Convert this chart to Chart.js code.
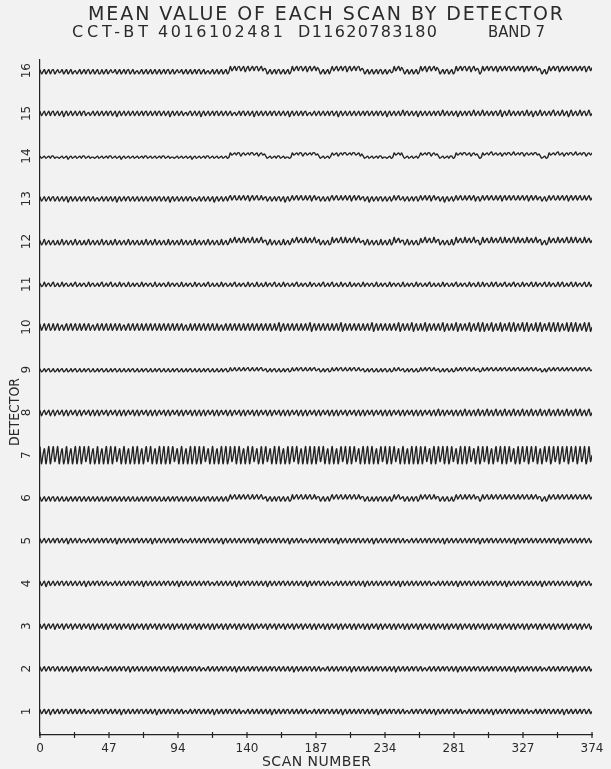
<!DOCTYPE html>
<html>
<head>
<meta charset="utf-8">
<script src="https://cdn.jsdelivr.net/npm/chart.js@4.4.1/dist/chart.umd.min.js"></script>
<style>
  html, body { margin: 0; padding: 0; background: #f2f2f2; }
  canvas { display: block; }
</style>
</head>
<body>
<canvas id="scanChart" width="611" height="769"></canvas>
<script>
// Detector rows and axis labels
const detectors = [1, 2, 3, 4, 5, 6, 7, 8, 9, 10, 11, 12, 13, 14, 15, 16];
const yTickLabels = ['1', '2', '3', '4', '5', '6', '7', '8', '9', '10', '11', '12', '13', '14', '15', '16'];
const xTickLabels = ['0', '47', '94', '140', '187', '234', '281', '327', '374'];
const lastScan = 374;

const titleText = 'MEAN VALUE OF EACH SCAN BY DETECTOR';
const subtitleParts = ['CCT-BT', '4016102481', 'D11620783180', 'BAND 7'];
const yAxisTitle = 'DETECTOR';
const xAxisTitle = 'SCAN NUMBER';

// Scan means, one digit per scan (scans 0..374); digit 5 is the detector's own level.
const det01 = [
  '735735725735735','736735735735735','735635735735736','735735735725735','735735736735735',
  '735725735735736','735735735635735','736735735735725','735735736735735','735635735735735',
  '735735725735735','736735735735735','735635735735736','735735735725735','735735736735735',
  '735725735735736','735735735635735','736735735735725','735735736735735','735635735735735',
  '735735725735735','736735735735735','735635735735736','735735735725735','735735736735735'];
const det02 = [
  '735735736735735','735735725735735','736735735735635','735735735736735','725735735735735',
  '735736735735735','725735735735736','735735635735735','735736735735725','735735735736735',
  '735735736735735','735735725735735','736735735735635','735735735736735','725735735735735',
  '735736735735735','725735735735736','735735635735735','735736735735725','735735735736735',
  '735735736735735','735735725735735','736735735735635','735735735736735','725735735735735'];
const det03 = [
  '735725735725735','725735725735725','735725725735725','725735725725735','725725735725725',
  '735725725735725','725735725725735','725725735725725','735725725735725','725735725725735',
  '735725735725735','725735725735725','735725725735725','725735725725735','725725735725725',
  '735725725735725','725735725725735','725725735725725','735725725735725','725735725725735',
  '725725735725725','735725725735725','725735725725735','725725735725725','735725725735725'];
const det04 = [
  '735725735735736','735735735735735','725735736735735','735635735735735','736735735725735',
  '735735735736735','735725735735735','735735736735635','735735735735725','735736735735735',
  '735725735735736','735735735735735','725735736735735','735635735735735','736735735725735',
  '735735735736735','735725735735735','735735736735635','735735735735725','735736735735735',
  '735735736735735','725735735736735','735735735725735','736735735735735','735725736735735'];
const det05 = [
  '735735735736735','735725735735735','635735735735736','735735725735735','735736735735735',
  '725735735735735','736735735635735','735735736735735','735725735735735','735735736735725',
  '735735735736735','735725735735735','635735735735736','735735725735735','735736735735735',
  '725735735735735','736735735635735','735735736735735','735725735735735','735735736735725',
  '735736735735735','735735725735736','735735735735735','736735725735735','735735736735735'];
const det06 = [
  '624624625624624','623624624625624','624624624624623','625624624624624','624623624624625',
  '624624623624624','625624624624624','623624625624624','624624624846845','846846845846846',
  '845624624625624','624623846846845','846845846624624','625846846845846','846845846624623',
  '624625624624624','846845624624625','624846846845846','624624623624846','845846846846624',
  '846845846846845','846846845846846','845846846624624','846845846846845','846846845846846'];
const det07 = [
  '915815915925915','814915815915915','925915814915815','915915925815915','814915915815925',
  '915815915914915','925815915815915','914915925815915','815915914925915','915815915925814',
  '915925815915915','814915925915815','915914915925915','815915815925914','915925815915915',
  '915815925914915','925815915815915','914915925815915','925915914925815','915915925815914',
  '925915815925915','915925814915925','915925915815925','914925915925915','925915925914925'];
const det08 = [
  '725735725725735','725725735725725','735725725725735','725735725725725','735725725735725',
  '725725735725725','735725725735725','725725725735725','725735725725735','725725735725725',
  '735725725735725','725725735725725','725735725725735','725725725735725','735725725725735',
  '725735725725725','735725725735725','725725735725725','825725735725725','725825725725825',
  '725825725825725','825725825725825','725825725825725','825725825725825','725825825725825'];
const det09 = [
  '634635634634635','634634635634634','635634634635634','634635634634634','635634634635634',
  '634635634634634','635634634635634','634634635634634','634635634745745','745746745745746',
  '745634635634634','635634745746745','745746745634635','634745746745745','746745745634635',
  '634634635634634','745745634635634','634745746745745','634635634634745','746745745745634',
  '745746745745746','745745746745745','746745745634635','745746745745746','745745746745745'];
const det10 = [
  '825825824825825','725825825824825','825825725825825','824825825825725','825825824825825',
  '825824825825825','825825825724825','825825825825824','825725825825825','824825825825825',
  '825825824825915','825825825824825','825915825825825','824825825915825','825825824825825',
  '915825825824825','825915825825915','824825915825825','825915824825915','825825915825915',
  '915825915824915','825915915825915','915824915915825','915915915824915','915915825915915'];
const det11 = [
  '634735635734634','735634635734635','634735634635734','635734634735634','734635634735635',
  '634734635634735','635634734635634','735634635734634','634735634635734','635634735634734',
  '634735635734634','735634635734635','634735634635734','635734634735634','734635634735635',
  '634734635634735','635634734635634','735634635734634','634735634635734','635634735634734',
  '735634735734635','734635735634735','635734735635734','735634735734635','734735635734735'];
const det12 = [
  '624724624623624','724624624724623','624724624624724','623624724624624','724624623624724',
  '624724624623724','624624724624623','724624624724624','623724624846946','845946846945846',
  '946624724624623','724624846946845','946846945724624','623946846945946','846946845624724',
  '624623724624724','946846624724624','623846946845946','724624623724946','845946846946624',
  '946845946846945','946846945946845','946846946724624','946845946846945','946946845946846'];
const det13 = [
  '735735736735735','735725735735735','736735735635735','735735725735736','735735735735735',
  '735736735735725','735735735736735','635735735735725','735735736846845','846846836846845',
  '846735735736735','725735846846845','846836846735735','736846845846846','836846846735725',
  '735736735735735','846845735735736','735846846836846','735725735735846','845846846836735',
  '846846845846836','846846845846846','836846846735735','846845846846836','846846845846846'];
const det14 = [
  '534534535534434','534524534534535','534534434534534','535534534524534','534534534535534',
  '534534535534534','434534534534524','534534535534534','534534534867868','857867868867857',
  '867534534535534','534434867868857','867868867534534','535867857868867','868867857534534',
  '534535534434534','867868534534534','535867868857867','534534535534867','868867857867534',
  '867868967867857','868867967868857','867868867534534','867868967857868','867967868857868'];
const det15 = [
  '735735736735735','725735735735736','735635735735735','736735725735735','735735735736735',
  '735736735735725','735735735636735','735725735735736','735735735735635','736735735725735',
  '735735736735735','735725735735736','735635735735735','736735725735735','735735735736735',
  '735736735725735','735735836735735','725735735735736','735835735735725','735736735835735',
  '835735736735825','735835735736735','835725735835735','736835735835725','835735836735835'];
const det16 = [
  '624624625624634','624624624524624','625624624623624','624634624624625','624624524624624',
  '624624624625624','624634624624624','625624624524624','624624624957958','957947957958957',
  '957624624625624','624624957958957','947957958624624','625957957958947','957958957624624',
  '624625624624634','957958624624624','624957947957958','624625624624957','958957947957624',
  '957958957947957','958957957958947','957958957624624','957958947957958','957957958947958'];

const readings = [det01, det02, det03, det04, det05, det06, det07, det08,
                  det09, det10, det11, det12, det13, det14, det15, det16];
// Size of one reading digit, in detector-row units
const readingStep = [0.025, 0.025, 0.025, 0.025, 0.025, 0.025, 0.05, 0.025,
                     0.025, 0.025, 0.025, 0.025, 0.025, 0.025, 0.025, 0.025];

const ink = '#232323';

const datasets = readings.map((groups, i) => {
  const digits = groups.join('');
  return {
    label: 'Detector ' + yTickLabels[i],
    data: Array.from(digits, (ch, scan) => ({ x: scan, y: detectors[i] + (Number(ch) - 5) * readingStep[i] })),
    borderColor: ink,
    borderWidth: 1.35,
    pointRadius: 0,
    tension: 0.3,
    fill: false
  };
});

// Tick positions: every sixteenth of the scan range, labelled every other one
const xTickValues = Array.from({ length: 17 }, (_, k) => k * lastScan / 16);

// Writes text so that it runs from x0 to x1: letters are spread out when the
// font is narrower than the span, squeezed horizontally when it is wider.
function spacedText(ctx, text, x0, x1, y, size) {
  ctx.save();
  ctx.font = size + 'px "DejaVu Sans"';
  ctx.letterSpacing = '0px';
  ctx.textAlign = 'left';
  ctx.textBaseline = 'middle';
  const w = ctx.measureText(text).width;
  const span = x1 - x0;
  if (w >= span) {
    ctx.translate(x0, y);
    ctx.scale(span / w, 1);
    ctx.fillText(text, 0, 0);
  } else {
    const gap = text.length > 1 ? (span - w) / (text.length - 1) : 0;
    ctx.letterSpacing = gap + 'px';
    ctx.fillText(text, x0, y);
  }
  ctx.restore();
}

const paperPlugin = {
  id: 'paper',
  beforeDraw(chart) {
    const { ctx, width, height } = chart;
    ctx.save();
    ctx.fillStyle = '#f2f2f2';
    ctx.fillRect(0, 0, width, height);
    ctx.restore();
  },
  afterDraw(chart) {
    const { ctx } = chart;
    const xs = chart.scales.x;
    ctx.save();
    // crossing tick marks on the scan axis
    ctx.strokeStyle = ink;
    ctx.lineWidth = 1.2;
    xs.ticks.forEach(t => {
      const px = xs.getPixelForValue(t.value);
      ctx.beginPath();
      ctx.moveTo(px, xs.top - 3);
      ctx.lineTo(px, xs.top + 3);
      ctx.stroke();
    });
    ctx.fillStyle = '#2a2a2a';
    spacedText(ctx, titleText, 88, 563, 15, 19);
    const partBounds = [[72, 148], [158, 283], [298, 437], [488, 545]];
    subtitleParts.forEach((p, i) => spacedText(ctx, p, partBounds[i][0], partBounds[i][1], 33, 16));
    spacedText(ctx, xAxisTitle, 262, 371, 762, 14);
    ctx.translate(15, 412);
    ctx.rotate(-Math.PI / 2);
    spacedText(ctx, yAxisTitle, -34, 34, 0, 14);
    ctx.restore();
  }
};

new Chart(document.getElementById('scanChart'), {
  type: 'line',
  data: { datasets },
  options: {
    responsive: false,
    animation: false,
    devicePixelRatio: 1,
    layout: { padding: { left: 0, top: 60, right: 19, bottom: 0 } },
    plugins: { legend: { display: false }, tooltip: { enabled: false }, title: { display: false } },
    scales: {
      x: {
        type: 'linear',
        min: 0,
        max: lastScan,
        afterBuildTicks: s => { s.ticks = xTickValues.map(v => ({ value: v })); },
        afterFit: s => { s.height = 34; },
        grid: { display: false, drawTicks: false },
        border: { display: true, color: ink, width: 1.2 },
        ticks: {
          autoSkip: false, minRotation: 0, maxRotation: 0, padding: 7,
          color: '#2a2a2a', font: { family: 'DejaVu Sans', size: 12 },
          callback: (v, i) => (i % 2 === 0 ? xTickLabels[i / 2] : '')
        }
      },
      y: {
        type: 'linear',
        min: 0.45,
        max: 16.25,
        afterBuildTicks: s => { s.ticks = detectors.map(v => ({ value: v })); },
        afterFit: s => { s.width = 40; },
        grid: { display: false, drawTicks: false },
        border: { display: true, color: ink, width: 1.2 },
        ticks: {
          autoSkip: false, minRotation: 90, maxRotation: 90, crossAlign: 'center', padding: 5,
          color: '#2a2a2a', font: { family: 'DejaVu Sans', size: 12 },
          callback: (v, i) => yTickLabels[i]
        }
      }
    }
  },
  plugins: [paperPlugin]
});
</script>
</body>
</html>
